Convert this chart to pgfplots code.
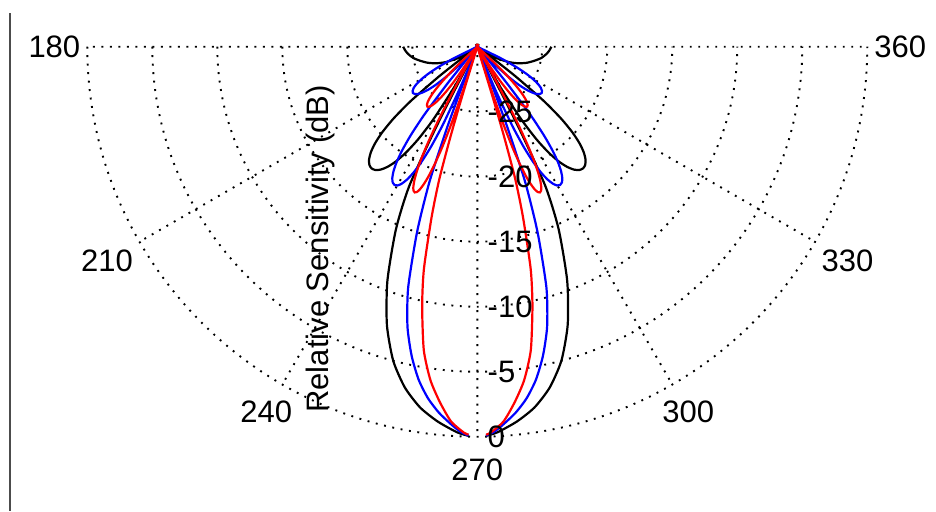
\documentclass[border=0pt]{standalone}
\usepackage{pgfplots}
\pgfplotsset{compat=1.18}
\usepgfplotslibrary{polar}
\usepackage{pgfplotstable}
\usepackage{fontspec}
\setmainfont{Liberation Sans}

\pgfplotstableread{
off r
1.3 29.94
3 29.7
6 29.0
9 28.1
12 26.8
15 25.0
18 22.5
21 19.3
24 15.4
26 12.0
27 7.6
27.5 4.0
28.2 0
28.67 0
29.1 1.66
29.8 3.73
31.2 6.57
32.6 8.48
34.0 9.84
35.4 10.84
36.8 11.55
38.2 12.03
39.6 12.31
41.0 12.4
42.4 12.31
43.8 12.03
45.2 11.55
46.6 10.84
48.0 9.84
49.4 8.48
50.8 6.57
52.2 3.73
52.9 1.66
53.33 0
55 0
57 0.8
60 1.8
64 2.7
68 3.4
72 4.0
76 4.5
80 5.0
84 5.35
87 5.55
90 5.7
}\blackdata

\pgfplotstableread{
off r
1.3 29.93
2.5 29.65
4 29.1
6 28.3
8 27.3
10 26.0
12 24.3
14 22.2
16 19.3
18 15.0
19.5 11.0
20.5 6.5
21.2 2.0
21.6 0
22.0 0
22.32 1.66
22.82 3.73
23.83 6.57
24.84 8.48
25.85 9.84
26.86 10.84
27.87 11.55
28.88 12.03
29.89 12.31
30.9 12.4
31.91 12.31
32.92 12.03
33.93 11.55
34.94 10.84
35.95 9.84
36.96 8.48
37.97 6.57
38.98 3.73
39.49 1.66
39.8 0
43.25 0
44.63 1.98
46.0 3.33
47.38 4.29
48.75 5.0
50.13 5.5
51.5 5.84
52.88 6.03
54.25 6.1
55.63 6.03
57.0 5.84
58.38 5.5
59.75 5.0
61.13 4.29
62.5 3.33
63.88 1.98
65.25 0
90 0
}\bluedata

\pgfplotstableread{
off r
1.3 29.85
2 29.7
4 28.9
6 27.5
8 25.9
10 23.7
12 20.4
13.5 17.6
15 13.6
16 10.6
16.6 7.2
17.0 4.0
17.35 0
17.44 0
17.64 1.46
17.97 3.53
18.63 6.37
19.29 8.28
19.95 9.64
20.61 10.64
21.27 11.35
21.93 11.83
22.59 12.11
23.25 12.2
23.91 12.11
24.57 11.83
25.23 11.35
25.89 10.64
26.55 9.64
27.21 8.28
27.87 6.37
28.53 3.53
28.86 1.46
29.06 0
31.8 0
32.8 1.88
33.8 3.23
34.8 4.19
35.8 4.9
36.8 5.4
37.8 5.74
38.8 5.93
39.8 6.0
40.8 5.93
41.8 5.74
42.8 5.4
43.8 4.9
44.8 4.19
45.8 3.23
46.8 1.88
47.8 0
90 0
}\reddata

\begin{document}
\begin{tikzpicture}
\begin{polaraxis}[
  scale only axis, width=390pt, height=390pt,
  xmin=180, xmax=360, ymin=0, ymax=30,
  xtick={180,210,240,270,300,330,360},
  xticklabels={180,210,240,,300,330,360},
  ytick={5,10,15,20,25,30},
  yticklabels={},
  grid=major,
  major grid style={black, line width=0.95pt, dash pattern=on 0.95pt off 3.3pt},
  axis line style={draw=none},
  major tick length=0pt,
  tick label style={font=\fontsize{15.5}{18}\selectfont},
  clip=false,
]
\coordinate (C) at (axis cs:0,0);
\addplot[black, line width=1.1pt, smooth, tension=0.4] table[x expr=270-\thisrow{off}, y=r] {\blackdata};
\addplot[black, line width=1.1pt, smooth, tension=0.4] table[x expr=270+\thisrow{off}, y=r] {\blackdata};
\addplot[blue, line width=1.1pt, smooth, tension=0.4] table[x expr=270-\thisrow{off}, y=r] {\bluedata};
\addplot[blue, line width=1.1pt, smooth, tension=0.4] table[x expr=270+\thisrow{off}, y=r] {\bluedata};
\addplot[red, line width=1.1pt, smooth, tension=0.4] table[x expr=270-\thisrow{off}, y=r] {\reddata};
\addplot[red, line width=1.1pt, smooth, tension=0.4] table[x expr=270+\thisrow{off}, y=r] {\reddata};
\foreach \rr/\lab in {5/-25,10/-20,15/-15,20/-10,25/-5,30/0} {
  \edef\temp{\noexpand\node[anchor=west, inner sep=0pt, xshift=5pt, font=\noexpand\fontsize{15.5}{18}\noexpand\selectfont] at (axis cs:270,\rr) {\lab};}
  \temp
}
\node[anchor=north, inner sep=0pt, yshift=-11pt, font=\fontsize{15.5}{18}\selectfont] at (axis cs:270,30) {270};
\end{polaraxis}
\node[rotate=90, anchor=base, inner sep=0pt, font=\fontsize{15.5}{18}\selectfont] at ([shift={(-74.65pt,-101.15pt)}]C) {Relative Sensitivity (dB)};
\draw[black!70, line width=1pt] ([shift={(-233.65pt,16.85pt)}]C) -- ([shift={(-233.65pt,-232.15pt)}]C);
\pgfresetboundingbox
\path[use as bounding box] ([shift={(-238.65pt,23.35pt)}]C) rectangle ([shift={(229.35pt,-232.15pt)}]C);
\end{tikzpicture}
\end{document}
